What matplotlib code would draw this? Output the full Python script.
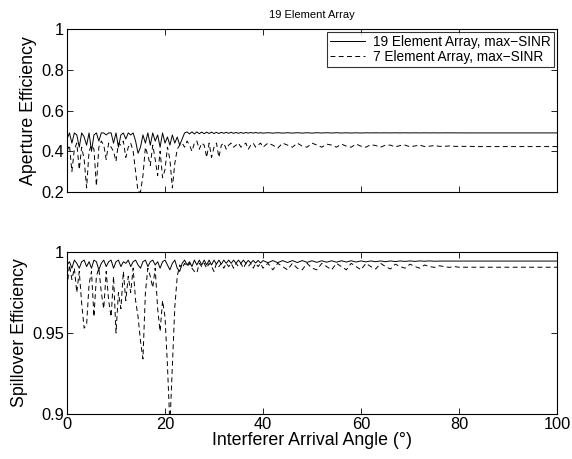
import numpy as np
import matplotlib
matplotlib.use("Agg")
import matplotlib.pyplot as plt

plt.rcParams['font.family'] = ['Liberation Sans', 'DejaVu Sans']

# Sampling angles (deg)
angles = np.concatenate([np.arange(0, 40.5, 0.5), np.arange(41, 81, 1), np.arange(82, 101, 2)])

# Aperture efficiency, 19 element array (max-SINR)
ap19 = [
    0.46, 0.49, 0.44, 0.49, 0.48, 0.42, 0.49, 0.47, 0.43, 0.49,
    0.40, 0.48, 0.49, 0.45, 0.49, 0.49, 0.48, 0.49, 0.49, 0.44,
    0.49, 0.42, 0.48, 0.49, 0.46, 0.49, 0.48, 0.49, 0.45, 0.39,
    0.42, 0.48, 0.44, 0.49, 0.43, 0.49, 0.45, 0.48, 0.42, 0.49,
    0.44, 0.47, 0.43, 0.48, 0.44, 0.47, 0.43, 0.46, 0.49, 0.495,
    0.485, 0.495, 0.485, 0.495, 0.486, 0.494, 0.486, 0.494, 0.487, 0.494,
    0.487, 0.493, 0.487, 0.493, 0.488, 0.493, 0.488, 0.493, 0.488, 0.492,
    0.488, 0.492, 0.488, 0.492, 0.489, 0.492, 0.489, 0.492, 0.489, 0.491,
    0.489,
    0.491, 0.489, 0.491, 0.489, 0.491, 0.489, 0.491, 0.489, 0.491, 0.489,
    0.491, 0.4895, 0.491, 0.4895, 0.491, 0.4895, 0.4905, 0.4895, 0.4905, 0.4895,
    0.4905, 0.49, 0.4905, 0.49, 0.4905, 0.49, 0.4905, 0.49, 0.4905, 0.49,
    0.4905, 0.49, 0.4905, 0.49, 0.4905, 0.49, 0.4903, 0.49, 0.4902, 0.49,
    0.49, 0.49, 0.49, 0.49, 0.49, 0.49, 0.49, 0.49, 0.49, 0.49,
]

# Aperture efficiency, 7 element array (max-SINR)
ap7 = [
    0.40, 0.43, 0.30, 0.41, 0.44, 0.31, 0.42, 0.36, 0.22, 0.40,
    0.43, 0.41, 0.23, 0.42, 0.45, 0.43, 0.36, 0.44, 0.42, 0.40,
    0.35, 0.44, 0.43, 0.45, 0.37, 0.42, 0.44, 0.40, 0.30, 0.20,
    0.20, 0.28, 0.42, 0.38, 0.33, 0.43, 0.36, 0.28, 0.40, 0.27,
    0.31, 0.42, 0.36, 0.22, 0.34, 0.41, 0.43, 0.44, 0.42, 0.45,
    0.43, 0.40, 0.44, 0.45, 0.41, 0.44, 0.43, 0.37, 0.44, 0.37,
    0.42, 0.44, 0.37, 0.43, 0.44, 0.41, 0.43, 0.44, 0.42, 0.43,
    0.44, 0.42, 0.43, 0.44, 0.41, 0.43, 0.44, 0.42, 0.43, 0.44,
    0.42,
    0.44, 0.43, 0.415, 0.44, 0.43, 0.42, 0.44, 0.425, 0.42, 0.44,
    0.43, 0.42, 0.435, 0.43, 0.42, 0.435, 0.425, 0.42, 0.435, 0.425,
    0.42, 0.432, 0.428, 0.42, 0.43, 0.43, 0.421, 0.428, 0.43, 0.422,
    0.426, 0.43, 0.423, 0.425, 0.428, 0.424, 0.424, 0.426, 0.424, 0.424,
    0.424, 0.423, 0.423, 0.423, 0.423, 0.423, 0.423, 0.423, 0.423, 0.423,
]

# Spillover efficiency, 19 element array
sp19 = [
    0.992, 0.994, 0.990, 0.995, 0.993, 0.990, 0.994, 0.995, 0.991, 0.994,
    0.990, 0.995, 0.994, 0.989, 0.993, 0.995, 0.991, 0.994, 0.995, 0.990,
    0.994, 0.995, 0.991, 0.994, 0.993, 0.995, 0.991, 0.994, 0.995, 0.992,
    0.990, 0.994, 0.995, 0.991, 0.994, 0.995, 0.992, 0.994, 0.990, 0.994,
    0.995, 0.992, 0.989, 0.993, 0.995, 0.990, 0.988, 0.993, 0.995, 0.992,
    0.994, 0.991, 0.995, 0.992, 0.995, 0.992, 0.995, 0.992, 0.995, 0.992,
    0.995, 0.9925, 0.995, 0.9925, 0.995, 0.993, 0.995, 0.993, 0.995, 0.993,
    0.995, 0.993, 0.995, 0.993, 0.9948, 0.9932, 0.9948, 0.9932, 0.9948, 0.9932,
    0.9947,
    0.9934, 0.9947, 0.9934, 0.9947, 0.9935, 0.9947, 0.9935, 0.9947, 0.9936, 0.9946,
    0.9936, 0.9946, 0.9937, 0.9946, 0.9937, 0.9946, 0.9938, 0.9946, 0.9938, 0.9945,
    0.9939, 0.9945, 0.9940, 0.9945, 0.9940, 0.9945, 0.9941, 0.9945, 0.9942, 0.9945,
    0.9942, 0.9945, 0.9943, 0.9945, 0.9943, 0.9944, 0.9944, 0.9944, 0.9944, 0.9944,
    0.9944, 0.9944, 0.9944, 0.9944, 0.9944, 0.9944, 0.9944, 0.9944, 0.9944, 0.9944,
]

# Spillover efficiency, 7 element array
sp7 = [
    0.978, 0.992, 0.983, 0.990, 0.975, 0.988, 0.968, 0.953, 0.955, 0.980,
    0.988, 0.960, 0.985, 0.990, 0.975, 0.965, 0.988, 0.970, 0.960, 0.985,
    0.950, 0.975, 0.965, 0.988, 0.970, 0.985, 0.975, 0.990, 0.970, 0.960,
    0.945, 0.934, 0.975, 0.990, 0.985, 0.978, 0.990, 0.965, 0.951, 0.970,
    0.960, 0.930, 0.893, 0.930, 0.966, 0.985, 0.992, 0.990, 0.993, 0.991,
    0.993, 0.990, 0.988, 0.987, 0.993, 0.991, 0.993, 0.990, 0.993, 0.991,
    0.988, 0.993, 0.991, 0.993, 0.990, 0.993, 0.991, 0.993, 0.990, 0.993,
    0.991, 0.993, 0.990, 0.993, 0.991, 0.993, 0.990, 0.993, 0.991, 0.993,
    0.990,
    0.993, 0.989, 0.993, 0.991, 0.989, 0.993, 0.990, 0.989, 0.993, 0.990,
    0.989, 0.993, 0.991, 0.989, 0.993, 0.991, 0.989, 0.993, 0.991, 0.989,
    0.993, 0.991, 0.9895, 0.993, 0.991, 0.9895, 0.9925, 0.991, 0.990, 0.9925,
    0.991, 0.990, 0.992, 0.991, 0.9905, 0.9915, 0.991, 0.9905, 0.991, 0.9906,
    0.9906, 0.9906, 0.9906, 0.9906, 0.9906, 0.9906, 0.9906, 0.9906, 0.9906, 0.9906,
]

labels = ["19 Element Array, max\u2212SINR", "7 Element Array, max\u2212SINR"]
xticks = [0, 20, 40, 60, 80, 100]
xticklabels = ["0", "20", "40", "60", "80", "100"]
ap_ticks = [0.2, 0.4, 0.6, 0.8, 1.0]
ap_ticklabels = ["0.2", "0.4", "0.6", "0.8", "1"]
sp_ticks = [0.9, 0.95, 1.0]
sp_ticklabels = ["0.9", "0.95", "1"]

fig = plt.figure(figsize=(5.72, 4.59), dpi=100)
W, H = 572, 459
ax1 = fig.add_axes([67 / W, 1 - 192 / H, 490 / W, 163 / H])
ax2 = fig.add_axes([67 / W, 1 - 414 / H, 490 / W, 162 / H])

lw = 0.7
dash = (0, (5, 3.5))
ax1.plot(angles, ap19, color='black', lw=lw, label=labels[0])
ax1.plot(angles, ap7, color='black', lw=lw, linestyle=dash, label=labels[1])
ax2.plot(angles, sp19, color='black', lw=lw)
ax2.plot(angles, sp7, color='black', lw=lw, linestyle=dash)

for ax in (ax1, ax2):
    ax.set_xlim(0, 100)
    ax.set_xticks(xticks)
    ax.tick_params(direction='in', top=True, right=True, length=4, width=0.6,
                   labelsize=11.8, pad=2)
    for s in ax.spines.values():
        s.set_linewidth(0.8)

ax1.set_ylim(0.2, 1.0)
ax1.set_yticks(ap_ticks)
ax1.set_yticklabels(ap_ticklabels)
ax1.set_xticklabels([])
ax1.set_ylabel("Aperture Efficiency", fontsize=12.8, labelpad=3)
ax1.set_title("19 Element Array", fontsize=8, pad=8)

ax2.set_ylim(0.9, 1.0)
ax2.set_yticks(sp_ticks)
ax2.set_yticklabels(sp_ticklabels)
ax2.set_xticklabels(xticklabels)
ax2.set_ylabel("Spillover Efficiency", fontsize=12.8, labelpad=3)
ax2.set_xlabel("Interferer Arrival Angle (\u00b0)", fontsize=12.8, labelpad=0)

leg = ax1.legend(loc='upper right', fontsize=9.8, frameon=True, fancybox=False,
                 edgecolor='black', borderpad=0.2, labelspacing=0.05,
                 handlelength=2.6, handletextpad=0.6, borderaxespad=0.25)
leg.get_frame().set_linewidth(0.8)

fig.savefig("out.png", dpi=100)
